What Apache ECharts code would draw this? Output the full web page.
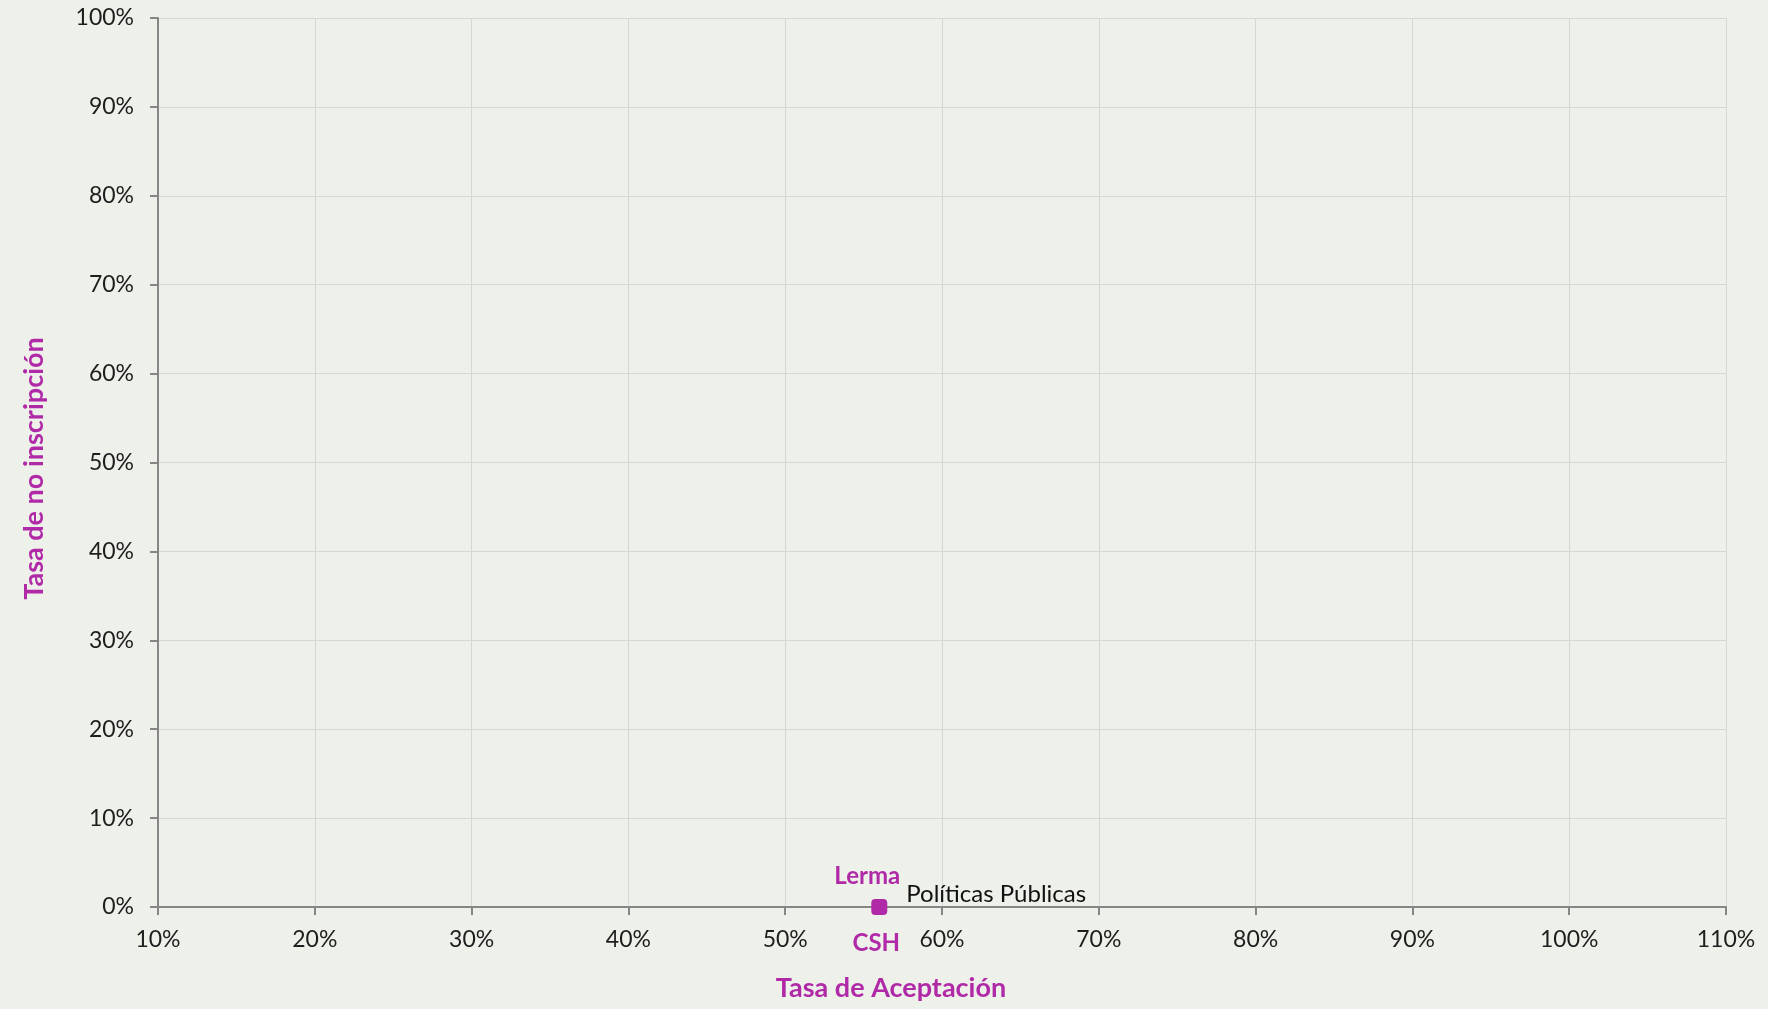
<!DOCTYPE html>
<html>
<head>
<meta charset="utf-8">
<script src="https://cdn.jsdelivr.net/npm/echarts@6/dist/echarts.min.js"></script>
<style>
  html, body { margin: 0; padding: 0; background: #eef0ea; }
  #chart { width: 1768px; height: 1009px; }
</style>
</head>
<body>
<div id="chart"></div>
<script>
// data
const programas = ['Políticas Públicas']
const unidades = ['Lerma']
const divisiones = ['CSH']
const tasaAceptacion = [56]
const tasaNoInscripcion = [0]

const xTicks = [10, 20, 30, 40, 50, 60, 70, 80, 90, 100, 110]
const yTicks = [0, 10, 20, 30, 40, 50, 60, 70, 80, 90, 100]

const magenta = '#b02aa8'
const font = 'Lato, "Open Sans", sans-serif'

const points = programas.map((p, i) => [tasaAceptacion[i], tasaNoInscripcion[i]])

const chart = echarts.init(document.getElementById('chart'))
chart.setOption({
  backgroundColor: '#eef0ea',
  animation: false,
  grid: { left: 158, right: 42, top: 18, bottom: 102 },
  graphic: [
    {
      type: 'text',
      x: 891,
      y: 988,
      style: {
        text: 'Tasa de Aceptación',
        fill: magenta,
        font: 'bold 27px ' + font,
        textAlign: 'center',
        textVerticalAlign: 'middle'
      }
    }
  ],
  xAxis: {
    type: 'value',
    min: xTicks[0],
    max: xTicks[xTicks.length - 1],
    interval: 10,
    axisLine: { lineStyle: { color: '#868686', width: 2 } },
    axisTick: { show: true, length: 8, lineStyle: { color: '#868686', width: 2 } },
    axisLabel: { formatter: '{value}%', color: '#1e1e1e', fontSize: 23, margin: 21, fontFamily: font },
    splitLine: { show: true, lineStyle: { color: '#d6d8d4', width: 1 } }
  },
  yAxis: {
    type: 'value',
    min: yTicks[0],
    max: yTicks[yTicks.length - 1],
    interval: 10,
    name: 'Tasa de no inscripción',
    nameLocation: 'middle',
    nameGap: 110,
    nameTextStyle: { color: magenta, fontWeight: 'bold', fontSize: 27, fontFamily: font, padding: [0, 12, 0, 0] },
    axisLine: { show: true, lineStyle: { color: '#868686', width: 2 } },
    axisTick: { show: true, length: 8, lineStyle: { color: '#868686', width: 2 } },
    axisLabel: { formatter: '{value}%', color: '#1e1e1e', fontSize: 23, margin: 24, fontFamily: font },
    splitLine: { show: true, lineStyle: { color: '#d6d8d4', width: 1 } }
  },
  series: [
    {
      type: 'scatter',
      clip: false,
      symbol: 'roundRect',
      symbolSize: 16,
      itemStyle: { color: magenta, opacity: 1 },
      data: points,
      label: {
        show: true,
        position: 'right',
        offset: [14, -13],
        formatter: p => programas[p.dataIndex],
        color: '#111',
        fontSize: 24,
        fontFamily: font
      },
      z: 5
    },
    {
      type: 'scatter',
      clip: false,
      symbolSize: 0,
      itemStyle: { color: magenta, opacity: 1 },
      data: points,
      label: {
        show: true,
        position: 'top',
        offset: [-12, -14],
        formatter: p => unidades[p.dataIndex],
        color: magenta,
        fontWeight: 'bold',
        fontSize: 24,
        fontFamily: font
      }
    },
    {
      type: 'scatter',
      clip: false,
      symbolSize: 0,
      itemStyle: { color: magenta, opacity: 1 },
      data: points,
      label: {
        show: true,
        position: 'bottom',
        offset: [-3, 19],
        formatter: p => divisiones[p.dataIndex],
        color: magenta,
        fontWeight: 'bold',
        fontSize: 24,
        fontFamily: font
      }
    }
  ]
})
</script>
</body>
</html>
